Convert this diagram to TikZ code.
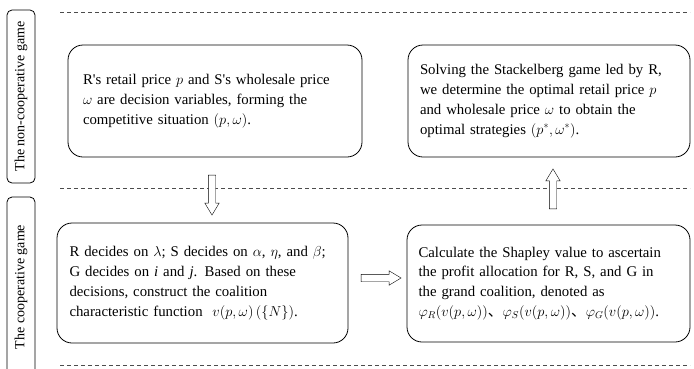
\documentclass[tikz,border=0pt]{standalone}
\usepackage{amsmath,amssymb}
\usepackage{fontspec}
\setmainfont{Liberation Serif}
\newfontfamily\cjk{Noto Sans CJK SC}
\usepackage{xcolor}
\usepackage{tikz}
\usetikzlibrary{arrows.meta,shapes.arrows}

\begin{document}
\begin{tikzpicture}[x=1pt,y=-1pt,
  stepbox/.style={draw,rounded corners=15pt,thick,align=left,inner sep=0pt,
                  font=\fontsize{14.8}{19.8}\selectfont},
  gamelabel/.style={draw,rounded corners=5pt,thick,rotate=90,minimum height=28pt,
                    inner sep=0pt,font=\fontsize{14}{16}\selectfont},
  sep/.style={dashed,dash pattern=on 4pt off 3pt,black!70},
  hollow/.style={single arrow,draw,fill=white,minimum height=40pt,inner sep=3.5pt,
                 single arrow head extend=3.5pt,single arrow tip angle=62}]
  \useasboundingbox (0,0) rectangle (694,368);
  % section separators
  \coordinate (t1) at (60,12);  \coordinate (t2) at (690,12);
  \coordinate (m1) at (60,188); \coordinate (m2) at (690,188);
  \coordinate (b1) at (60,365); \coordinate (b2) at (690,365);
  \draw[sep](t1)--(t2); \draw[sep](m1)--(m2); \draw[sep](b1)--(b2);
  % side labels
  \node[gamelabel,minimum width=173pt](NC) at (21,96.5) {The non-cooperative game};
  \node[gamelabel,minimum width=180pt](CO) at (21,287) {The cooperative game};
  % boxes
  \node[stepbox,minimum width=294pt,minimum height=112pt,text width=264pt](A) at (215,101)
    {R\textquotesingle s retail price $p$ and S\textquotesingle s wholesale price\\ $\omega$ are decision variables, forming the\\ competitive situation $(p,\omega)$.};
  \node[stepbox,minimum width=282pt,minimum height=112pt,text width=258pt](B) at (549,101)
    {Solving the Stackelberg game led by R,\\ we determine the optimal retail price $p$\\ and wholesale price $\omega$ to obtain the\\ optimal strategies $(p^{*},\omega^{*})$.};
  \node[stepbox,minimum width=291pt,minimum height=120pt,text width=266pt](C) at (202.5,283)
    {R decides on $\lambda$; S decides on $\alpha$, $\eta$, and $\beta$;\\ G decides on \textit{i} and \textit{j}. Based on these\\ decisions, construct the coalition\\ characteristic function \ $v(p,\omega)\,(\{N\})$.};
  \node[stepbox,minimum width=283pt,minimum height=117pt,text width=260pt](D) at (548.5,283.5)
    {Calculate the Shapley value to ascertain\\ the profit allocation for R, S, and G in\\ the grand coalition, denoted as\\ $\varphi_R(v(p,\omega))${\cjk 、}$\varphi_S(v(p,\omega))${\cjk 、}$\varphi_G(v(p,\omega))$.};
  % flow arrows
  \node[hollow,rotate=-90](down) at (212,192) {};
  \node[hollow,rotate=90](up) at (553,192) {};
  \node[hollow](right) at (378,278) {};
\end{tikzpicture}
\end{document}
